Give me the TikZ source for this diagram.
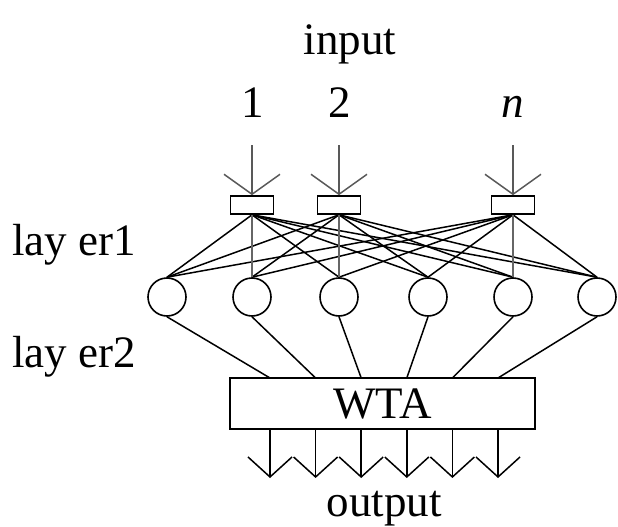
\documentclass[tikz,border=0pt]{standalone}
\usepackage{fontspec}
\setmainfont{Liberation Serif}
\usetikzlibrary{arrows.meta,positioning,calc}
\tikzset{
  netlabel/.style={font=\fontsize{45}{54}\selectfont, inner sep=0pt},
  unit/.style={draw, circle, minimum size=38pt, inner sep=0pt, line width=1.6pt},
  inbox/.style={draw, minimum width=43pt, minimum height=18pt, inner sep=0pt, line width=1.6pt},
  wtabox/.style={draw, minimum width=305pt, minimum height=51pt, inner sep=0pt,
    line width=1.6pt, font=\fontsize{45}{54}\selectfont},
  feed/.style={line width=1.5pt, black!65, -{Straight Barb[length=20pt, width=56pt]}},
  link/.style={line width=1.5pt},
  pass/.style={line width=1.5pt, black!60},
  outflow/.style={line width=1.5pt, -{Straight Barb[length=20pt, width=44pt]}}
}
\begin{document}
\begin{tikzpicture}[x=1pt, y=-1pt]
  \useasboundingbox (0,0) rectangle (618,527);

  % labels
  \node[netlabel, anchor=base] (intxt) at (350,55) {input};
  \node[netlabel, anchor=base] (num1) at (253,117) {1};
  \node[netlabel, anchor=base] (num2) at (340,117) {2};
  \node[netlabel, anchor=base] (numn) at (513,117) {\itshape n};
  \node[netlabel, anchor=base west] (lay1) at (12,255) {lay er1};
  \node[netlabel, anchor=base west] (lay2) at (12,367) {lay er2};
  \node[netlabel, anchor=base] (outtxt) at (384,516) {output};

  % layer 1 units
  \foreach \x [count=\k] in {167,252,339,428,513,597}
    \node[unit] (l\k) at (\x,297) {};

  % input boxes
  \node[inbox] (ina) at (252,205) {};
  \node[inbox] (inb) at (339,205) {};
  \node[inbox] (inc) at (513,205) {};

  % WTA
  \node[wtabox] (wta) at (382.5,403.5) {WTA};

  % inputs
  \foreach \i/\x in {a/252,b/339,c/513} {
    \coordinate (t\i) at (\x,145);
    \draw[feed] (t\i) -- (in\i.north);
  }
  \foreach \i in {a,b,c}
    \foreach \j in {1,...,6}
      \draw[link] (in\i.south) -- (l\j.north);
  \draw[pass] (ina.south) -- (l2.north);
  \draw[pass] (inb.south) -- (l3.north);
  \draw[pass] (inc.south) -- (l5.north);

  % layer 2 and outputs
  \foreach \k in {1,...,6} {
    \coordinate (u\k) at (224.4+45.6*\k,378);
    \coordinate (d\k) at (224.4+45.6*\k,429);
    \coordinate (o\k) at (224.4+45.6*\k,478);
    \draw[link] (l\k.south) -- (u\k);
    \draw[outflow] (d\k) -- (o\k);
  }
\end{tikzpicture}
\end{document}
